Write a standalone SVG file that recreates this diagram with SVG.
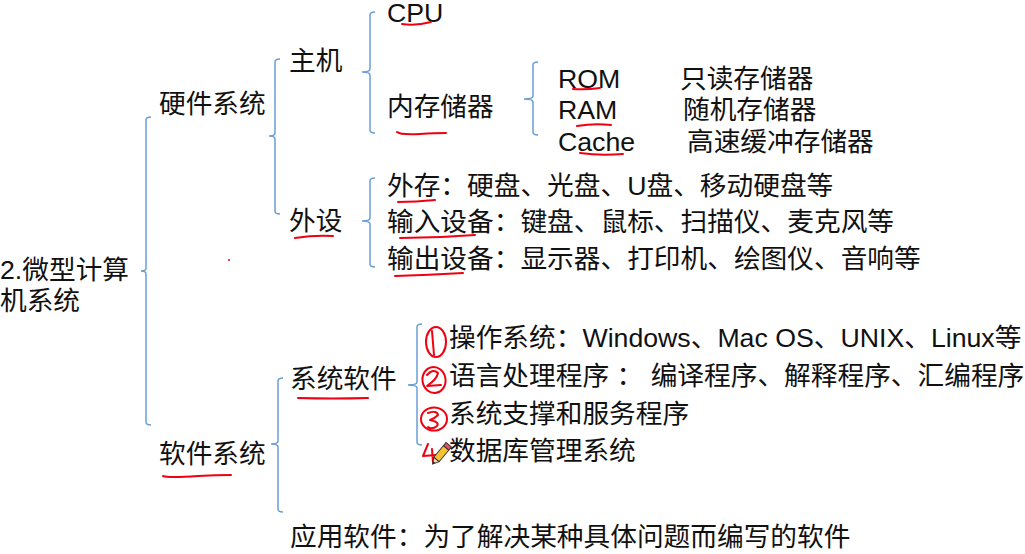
<svg xmlns="http://www.w3.org/2000/svg" width="1025" height="554" viewBox="0 0 1025 554">
<style>
text{font-family:"Liberation Sans","Noto Sans CJK SC",sans-serif;font-size:26.7px;fill:#111}
.br{fill:none;stroke:#6a9fd8;stroke-width:1.5}
.red{fill:none;stroke:#f00010;stroke-width:2;stroke-linecap:round;stroke-linejoin:round}
</style>
<rect width="1025" height="554" fill="#fff"/>
<g id="connectors">
<path class="br" d="M151,117 Q146,117 146,120 V268 Q146,271 141,271 Q146,271 146,274 V422 Q146,425 151,425"/>
<path class="br" d="M280,59 Q275,59 275,62 V133 Q275,136 269,136 Q275,136 275,139 V211 Q275,214 280,214"/>
<path class="br" d="M375,12 Q370,12 370,15 V69 Q370,72 362,72 Q370,72 370,75 V130 Q370,133 375,133"/>
<path class="br" d="M538,62 Q533,62 533,65 V96 Q533,99 524,99 Q533,99 533,102 V132 Q533,135 538,135"/>
<path class="br" d="M375,178 Q370,178 370,181 V218 Q370,221 362,221 Q370,221 370,224 V264 Q370,267 375,267"/>
<path class="br" d="M283,378 Q278,378 278,381 V441 Q278,444 271,444 Q278,444 278,447 V509 Q278,512 283,512"/>
<path class="br" d="M422,324 Q417,324 417,327 V382 Q417,385 408,385 Q417,385 417,388 V442 Q417,445 422,445"/>
</g>
<g id="root"><text x="0" y="279">2.微型计算</text><text x="0" y="310">机系统</text></g>
<g id="hardware"><text x="159" y="113">硬件系统</text></g>
<g id="host"><text x="289" y="70">主机</text></g>
<g id="peripheral"><text x="289" y="230">外设</text></g>
<g id="cpu"><text x="387" y="22">CPU</text></g>
<g id="memory"><text x="387" y="116">内存储器</text></g>
<g id="rom"><text x="558" y="88">ROM</text><text x="680" y="88">只读存储器</text></g>
<g id="ram"><text x="558" y="119">RAM</text><text x="683" y="119">随机存储器</text></g>
<g id="cache"><text x="558" y="151">Cache</text><text x="687" y="151">高速缓冲存储器</text></g>
<g id="ext-storage"><text x="387" y="195">外存：硬盘、光盘、U盘、移动硬盘等</text></g>
<g id="input"><text x="387" y="231">输入设备：键盘、鼠标、扫描仪、麦克风等</text></g>
<g id="output"><text x="387" y="268">输出设备：显示器、打印机、绘图仪、音响等</text></g>
<g id="software"><text x="159" y="463">软件系统</text></g>
<g id="system-software"><text x="290" y="388">系统软件</text></g>
<g id="os"><text x="449" y="347">操作系统：Windows、Mac OS、UNIX、Linux等</text></g>
<g id="lang"><text x="449" y="385">语言处理程序 ： 编译程序、解释程序、汇编程序</text></g>
<g id="support"><text x="449" y="423">系统支撑和服务程序</text></g>
<g id="dbms"><text x="449" y="460">数据库管理系统</text></g>
<g id="app-software"><text x="290" y="546">应用软件：为了解决某种具体问题而编写的软件</text></g>
<g id="annotations">
<path class="red" d="M402,24 Q416,26 431,22"/>
<path class="red" d="M397,132 Q400,135 420,134 Q435,133 446,133"/>
<path class="red" d="M573,89 Q586,90 600,88"/>
<path class="red" d="M577,126 Q594,123 611,125"/>
<path class="red" d="M580,153 Q600,156 623,154"/>
<path class="red" d="M398,202 Q416,202 435,200"/>
<path class="red" d="M400,238 Q437,238 475,235"/>
<path class="red" d="M395,276 Q429,275 463,273"/>
<path class="red" d="M295,238 Q314,235 333,236"/>
<path class="red" d="M163,476 Q168,478 198,476 Q216,475 231,475"/>
<path class="red" d="M298,398 Q333,399 368,398"/>
<circle cx="229" cy="260" r="1" fill="#f00010"/>
<ellipse class="red" cx="436" cy="342" rx="10" ry="15"/>
<path class="red" d="M432,331 L434,355"/>
<ellipse class="red" cx="434" cy="380" rx="11.5" ry="13" transform="rotate(-10 434 380)"/>
<path class="red" d="M427,375 Q433,368 438,373 Q437,379 427,386 L441,385"/>
<ellipse class="red" cx="434" cy="419" rx="13" ry="11.5"/>
<path class="red" d="M428,413 Q437,410 438,415 Q434,419 430,420 Q440,422 437,426 Q432,430 428,427"/>
<path class="red" d="M428,444 L423,456 L437,455 M432,449 L433,463"/>
</g>
<g id="pencil" transform="translate(441,454) rotate(-50)">
<polygon points="-13,0 -7,-3.5 -7,3.5" fill="#f3dcae" stroke="#333" stroke-width="1"/>
<polygon points="-13,0 -10.5,-1.5 -10.5,1.5" fill="#333"/>
<rect x="-7" y="-3.5" width="15" height="7" fill="#f6c230" stroke="#333" stroke-width="1"/>
<rect x="8" y="-3.5" width="4" height="7" fill="#e5506a" stroke="#333" stroke-width="1"/>
</g>
</svg>
